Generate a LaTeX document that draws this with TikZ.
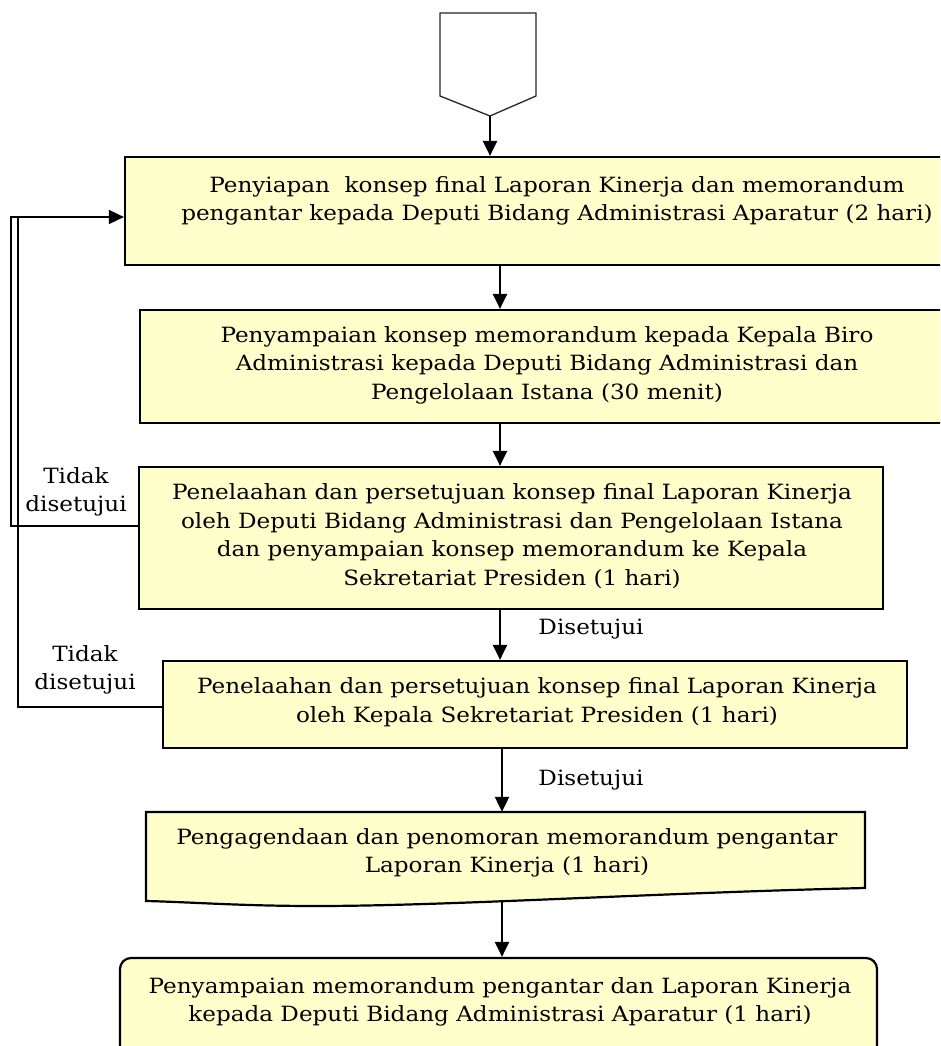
\documentclass[tikz,border=0pt]{standalone}
\usepackage{fontspec}
\setmainfont{DejaVu Serif}[FakeStretch=1.1]
\usetikzlibrary{arrows.meta}
\definecolor{boxfill}{HTML}{FFFFCC}
\begin{document}
\begin{tikzpicture}[x=1pt,y=-1pt,
  box/.style={draw=black,line width=2.2pt,fill=boxfill,inner sep=0pt},
  txt/.style={align=center,inner sep=0pt,font=\fontsize{21}{28.5}\selectfont},
  lbl/.style={align=center,inner sep=0pt,font=\fontsize{21}{28.5}\selectfont},
  arr/.style={line width=2.2pt,-{Triangle[length=15pt,width=14pt]}},
  fb/.style={line width=1.6pt},
  fbarr/.style={line width=1.6pt,-{Triangle[length=15pt,width=14pt]}}]
\useasboundingbox (0,0) rectangle (940,1046);
\clip (0,0) rectangle (940,1046);
% start pentagon
\draw[line width=1.3pt,draw=black!85,fill=white] (440,13) -- (536,13) -- (536,96) -- (490,116) -- (440,96) -- cycle;
\coordinate (pent) at (490,116);
\coordinate (ax) at (500,0);
\coordinate (bx) at (502,0);
% boxes
\node[box,minimum width=865pt,minimum height=108pt] (b1) at (557.5,211) {};
\node[txt] (t1) at (557,201) {Penyiapan\ \ konsep final Laporan Kinerja dan memorandum\\pengantar kepada Deputi Bidang Administrasi Aparatur (2 hari)};
\node[box,minimum width=815pt,minimum height=113pt] (b2) at (547.5,366.5) {};
\node[txt] (t2) at (547,365) {Penyampaian konsep memorandum kepada Kepala Biro\\Administrasi kepada Deputi Bidang Administrasi dan\\Pengelolaan Istana (30 menit)};
\node[box,minimum width=744pt,minimum height=142pt] (b3) at (511,538) {};
\node[txt] (t3) at (512,536) {Penelaahan dan persetujuan konsep final Laporan Kinerja\\oleh Deputi Bidang Administrasi dan Pengelolaan Istana\\dan penyampaian konsep memorandum ke Kepala\\Sekretariat Presiden (1 hari)};
\node[box,minimum width=744pt,minimum height=87pt] (b4) at (535,704.5) {};
\node[txt] (t4) at (537,702) {Penelaahan dan persetujuan konsep final Laporan Kinerja\\oleh Kepala Sekretariat Presiden (1 hari)};
% document shape
\draw[line width=2.2pt,fill=boxfill] (146,812) -- (865,812) -- (865,888)
  .. controls (650,893) and (450,906) .. (316,906)
  .. controls (240,906) and (190,902) .. (146,901) -- cycle;
\node[inner sep=0pt,minimum width=719pt,minimum height=88pt] (doc) at (505.5,856) {};
\node[txt] (t5) at (507,853) {Pengagendaan dan penomoran memorandum pengantar\\Laporan Kinerja (1 hari)};
\coordinate (docb) at (502,900);
\node[box,rounded corners=11pt,minimum width=757pt,minimum height=120pt] (b5) at (498.5,1018) {};
\node[txt] (t6) at (500,1002) {Penyampaian memorandum pengantar dan Laporan Kinerja\\kepada Deputi Bidang Administrasi Aparatur (1 hari)};
% main arrows
\draw[arr] (pent) -- (b1.north -| pent);
\draw[arr] (b1.south -| ax) -- (b2.north -| ax);
\draw[arr] (b2.south -| ax) -- (b3.north -| ax);
\draw[arr] (b3.south -| ax) -- (b4.north -| ax);
\draw[arr] (b4.south -| bx) -- (doc.north -| bx);
\draw[arr] (docb) -- (b5.north -| docb);
% labels
\node[lbl] (d1) at (591,629) {Disetujui};
\node[lbl] (d2) at (591,780) {Disetujui};
\node[lbl] (n1) at (76,492) {Tidak\\disetujui};
\node[lbl] (n2) at (85,670) {Tidak\\disetujui};
% feedback loops
\coordinate (L1a) at (11,526);
\coordinate (L1b) at (11,217);
\coordinate (L2a) at (18,707);
\coordinate (L2b) at (18,217);
\draw[fbarr] (b3.west |- L1a) -- (L1a) -- (L1b) -- (b1.west |- L1b);
\draw[fb] (b4.west |- L2a) -- (L2a) -- (L2b);
\end{tikzpicture}
\end{document}
